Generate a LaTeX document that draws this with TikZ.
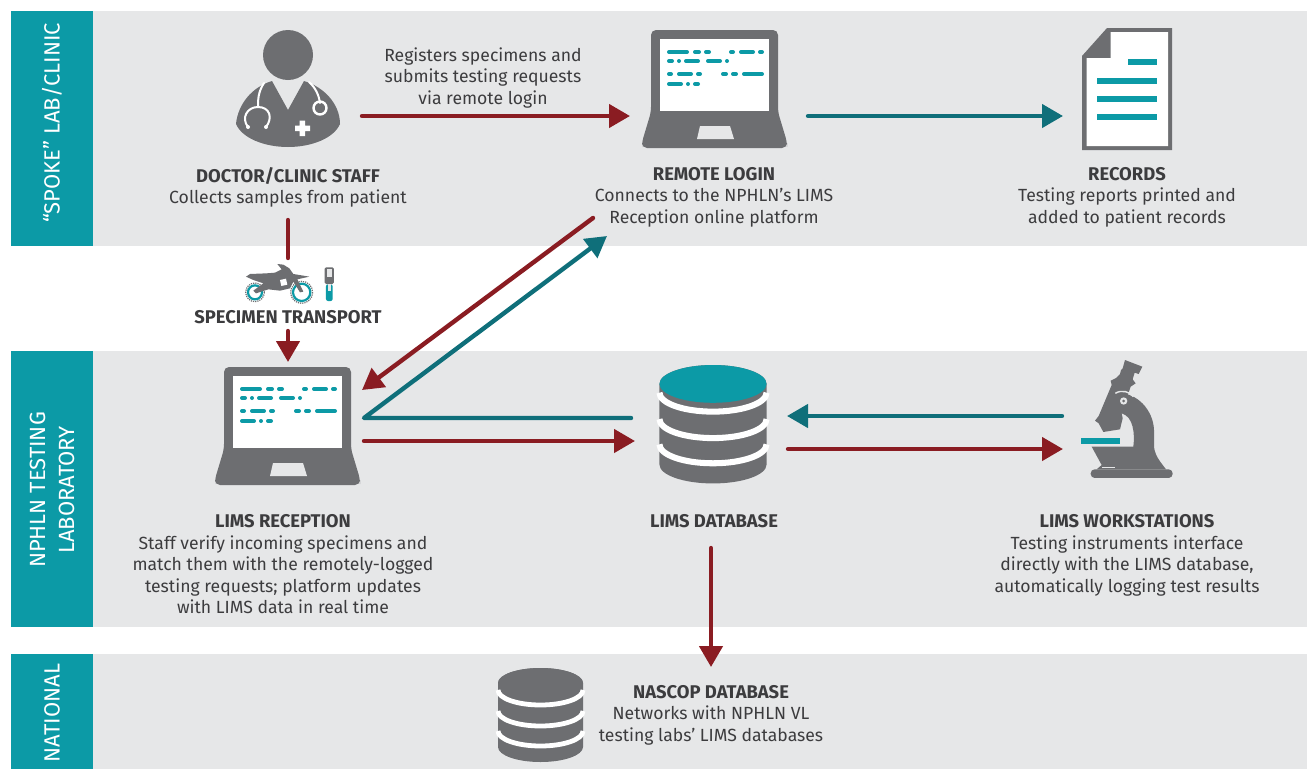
\documentclass[tikz,border=0pt]{standalone}
\usepackage{fontspec}
\setmainfont{Fira Sans}
\usetikzlibrary{arrows.meta}
\definecolor{band}{HTML}{E6E7E8}
\definecolor{side}{HTML}{0C9AA6}
\definecolor{icon}{HTML}{6D6E71}
\definecolor{txt}{HTML}{3C3C3E}
\definecolor{redar}{HTML}{8A1C22}
\definecolor{tealar}{HTML}{0F6F7A}
\tikzset{
 bandbox/.style={fill=band,draw=none},
 sidebox/.style={fill=side,draw=none},
 sidetext/.style={rotate=90,text=white,align=center,font=\fontsize{22}{29}\selectfont,inner sep=0pt},
 lbl/.style={text=txt,align=center,font=\fontsize{17.6}{21.5}\selectfont,inner sep=0pt,anchor=north},
 redline/.style={draw=redar,line width=4.4pt,line cap=round},
 tealline/.style={draw=tealar,line width=4.4pt,line cap=round},
 tipped/.style={-{Triangle[length=21pt,width=23pt]}},
 codebar/.style={draw=side,line width=4pt,line cap=round},
}
\newcommand{\ttl}[1]{{\fontsize{18.4}{21.5}\fontseries{b}\selectfont #1}}
\newcommand{\laptopicon}[1]{%
\begin{scope}[shift={(#1)}]
\fill[icon,rounded corners=5pt] (651,30)--(778,30)--(778,112)--(787,142)--(787,148)--(642,148)--(642,142)--(651,112)--cycle;
\fill[white] (660,39) rectangle (769,111);
\fill[band] (700,126)--(730,126)--(734,139)--(697,139)--cycle;
\foreach \a/\b/\y in {667/689/52,693/701/52,704/711/52,729/735/52,739/755/52,758/764/52,
 667/674/61,677/681/61,684/700/61,706/722/61,725/729/61,
 667/673/74,677/693/74,696/702/74,721/728/74,731/738/74,742/764/74,
 667/683/84,686/690/84,693/700/84}
 \draw[codebar] (\a+2,\y)--(\b-2,\y);
\end{scope}}
\newcommand{\dbarc}[1]{(-42.5,#1) .. controls (-42.5,#1+8.3) and (-23.5,#1+15) .. (0,#1+15) .. controls (23.5,#1+15) and (42.5,#1+8.3) .. (42.5,#1)}
\newcommand{\dbicon}[4]{%
\begin{scope}[shift={(#1,#2)},scale=#3]
\fill[icon] (-42.5,15) .. controls (-42.5,6.7) and (-23.5,0) .. (0,0) .. controls (23.5,0) and (42.5,6.7) .. (42.5,15) -- (42.5,79) .. controls (42.5,87.3) and (23.5,94) .. (0,94) .. controls (-23.5,94) and (-42.5,87.3) .. (-42.5,79) -- cycle;
\foreach \y in {22,43,63}
 \draw[white,line width=#3*4.8pt] \dbarc{\y};
\fill[#4] (0,15) ellipse[x radius=42.5,y radius=15];
\end{scope}}
\begin{document}
\begin{tikzpicture}[x=1pt,y=-1pt]
\useasboundingbox (0,0) rectangle (1307,769);
\fill[white] (0,0) rectangle (1307,769);
% bands
\fill[bandbox] (11,11) rectangle (1307,246);
\fill[bandbox] (11,351) rectangle (1307,627);
\fill[bandbox] (11,654) rectangle (1307,769);
\fill[sidebox] (11,11) rectangle (93,246);
\fill[sidebox] (11,351) rectangle (93,627);
\fill[sidebox] (11,654) rectangle (93,769);
\node[sidetext] (spoke) at (52,123) {“SPOKE” LAB/CLINIC};
\node[sidetext] (nphln) at (52,490) {NPHLN TESTING\\LABORATORY};
\node[sidetext] (natl) at (52,713) {NATIONAL};
% doctor
\fill[icon] (288,55) circle (25);
\fill[icon] (272,81) -- (288,110) -- (304,81)
 .. controls (324,87) and (340,104) .. (340,124)
 .. controls (334,138) and (312,147) .. (288,147)
 .. controls (264,147) and (242,138) .. (236,124)
 .. controls (238,104) and (252,87) .. (272,81) -- cycle;
\begin{scope}[white,line width=2pt,line cap=round]
\draw (264,83) .. controls (258,92) and (258,100) .. (258,107);
\draw (248,127) .. controls (241,118) and (247,107) .. (258,107) .. controls (270,107) and (273,118) .. (266,127);
\draw (309,82) .. controls (316,88) and (319,96) .. (320,103);
\draw[line width=2.4pt] (320,108) circle (6.5);
\fill (248,127) circle (2) (266,127) circle (2);
\fill[line width=0pt] (299.5,120.5) rectangle (305,136) (295,125.5) rectangle (310,131);
\end{scope}
% laptops
\laptopicon{0,0}
\laptopicon{-427,337}
% records
\fill[icon] (1107,28) -- (1172,28) -- (1172,150) -- (1082,150) -- (1082,56) -- cycle;
\fill[white] (1110.5,32) -- (1168,32) -- (1168,146) -- (1086.5,146) -- (1086.5,58) -- (1110.5,58) -- cycle;
\fill[side] (1128,59) rectangle (1157,65);
\fill[side] (1097,78) rectangle (1157,84);
\fill[side] (1097,96) rectangle (1157,102);
\fill[side] (1097,114) rectangle (1157,120);
% database icons
\dbicon{713}{365}{1.26}{side}
\dbicon{540.5}{668}{1}{icon}
% microscope
\begin{scope}[shift={(1040,350)},scale=0.3333]
\fill[icon] (255,30) -- (307,50) -- (296,72) -- (284,68) -- (278,88) -- (287,100) -- (272,110) -- (245,190) -- (248,205) -- (240,238) -- (190,246) -- (176,220) -- (165,212) -- (176,198) -- (215,105) -- (212,92) -- (228,84) -- (240,72) -- (243,60) -- (248,55) -- cycle;
\fill[icon] (230,130) .. controls (290,125) and (340,180) .. (342,240) -- (342,290)
 .. controls (345,320) and (365,340) .. (378,358) -- (170,358) -- (185,345) -- (155,290) -- (280,290)
 .. controls (285,250) and (280,200) .. (245,190) -- (225,180) -- cycle;
\fill[icon,rounded corners=4pt] (152,358) rectangle (398,384);
\fill[band] (186,350) rectangle (226,355);
\fill[band] (251,153) circle (11);
\fill[icon] (251,153) circle (4.5);
\draw[band,line width=1.4pt] (226,130) .. controls (245,118) and (270,125) .. (280,140);
\fill[side] (123,265) rectangle (240,283);
\end{scope}
% motorbike
\begin{scope}[shift={(200,250)},scale=0.3333]
\draw[icon,line width=1.2pt,densely dotted] (165,127) circle (28);
\draw[icon,line width=1.2pt,densely dotted] (305,127) circle (33);
\draw[side,line width=2.2pt] (165,127) circle (21);
\draw[side,line width=2.2pt] (305,127) circle (26);
\fill[icon] (138,80) -- (150,72) -- (200,70) -- (225,68) -- (245,58) -- (232,42) -- (250,44) -- (268,55) -- (280,72) -- (328,80) -- (292,88) -- (310,125) -- (300,127) -- (280,95) -- (270,115) -- (240,122) -- (205,118) -- (168,130) -- (160,122) -- (190,100) -- (160,90) -- cycle;
\fill[white] (240,90) -- (258,86) -- (262,104) -- (244,108) -- cycle;
% test tube
\fill[icon,rounded corners=1.5pt] (374,52) rectangle (402,102);
\fill[band] (381,58) rectangle (395,82);
\fill[side,rounded corners=2pt] (378,103) rectangle (398,153);
\fill[band] (383,103) rectangle (393,124);
\end{scope}
% labels
\node[lbl] (regs) at (483,47.5) {Registers specimens and\\submits testing requests\\via remote login};
\node[lbl] (docl) at (288,167) {\ttl{DOCTOR/CLINIC STAFF}\\Collects samples from patient};
\node[lbl] (logl) at (714,167) {\ttl{REMOTE LOGIN}\\Connects to the NPHLN’s LIMS\\Reception online platform};
\node[lbl] (recl) at (1127,167) {\ttl{RECORDS}\\Testing reports printed and\\added to patient records};
\node[lbl] (tran) at (288,310) {\ttl{SPECIMEN TRANSPORT}};
\node[lbl] (recp) at (283,514.5) {\ttl{LIMS RECEPTION}\\Staff verify incoming specimens and\\match them with the remotely-logged\\testing requests; platform updates\\with LIMS data in real time};
\node[lbl] (dbl) at (714,514.5) {\ttl{LIMS DATABASE}};
\node[lbl] (wsl) at (1127,514.5) {\ttl{LIMS WORKSTATIONS}\\Testing instruments interface\\directly with the LIMS database,\\automatically logging test results};
\node[lbl] (nas) at (711,685) {\ttl{NASCOP DATABASE}\\Networks with NPHLN VL\\testing labs’ LIMS databases};
% connector ends
\coordinate (docR) at (362,116);
\coordinate (logL) at (630,116);
\coordinate (logR) at (808,116);
\coordinate (recL) at (1063,116);
\coordinate (docB) at (288,220);
\coordinate (bikeT) at (288,258);
\coordinate (tranB) at (288,331);
\coordinate (lapT) at (288,362);
\coordinate (logBr) at (593,218);
\coordinate (lapRr) at (362,390);
\coordinate (lapRt) at (364,418);
\coordinate (logBt) at (607,236);
\coordinate (dbLt) at (631,418);
\coordinate (lapRb) at (364,441);
\coordinate (dbLb) at (635,441);
\coordinate (wsLt) at (1062,416);
\coordinate (dbRt) at (787,416);
\coordinate (dbRb) at (788,449);
\coordinate (wsLb) at (1063,449);
\coordinate (dbB) at (711,548);
\coordinate (nasT) at (711,667);
% connectors
\draw[redline,tipped] (docR) -- (logL);
\draw[tealline,tipped] (logR) -- (recL);
\draw[redline] (docB) -- (bikeT);
\draw[redline,tipped] (tranB) -- (lapT);
\draw[redline,tipped] (logBr) -- (lapRr);
\draw[tealline,tipped,line join=round] (dbLt) -- (lapRt) -- (logBt);
\draw[redline,tipped] (lapRb) -- (dbLb);
\draw[tealline,tipped] (wsLt) -- (dbRt);
\draw[redline,tipped] (dbRb) -- (wsLb);
\draw[redline,tipped] (dbB) -- (nasT);
\end{tikzpicture}
\end{document}
